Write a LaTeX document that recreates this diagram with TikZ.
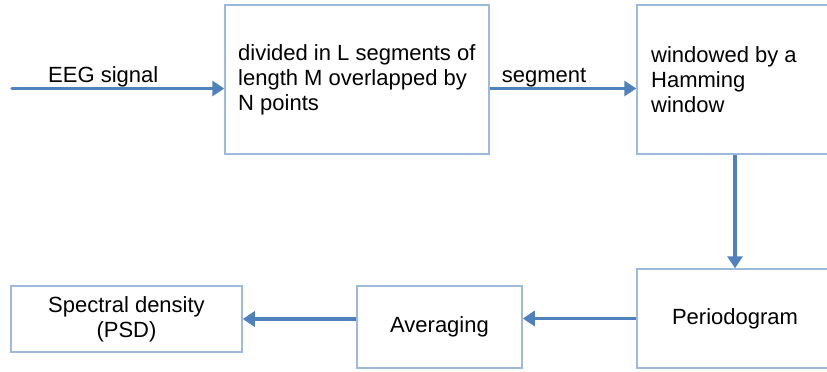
\documentclass[tikz,border=0pt]{standalone}
\usepackage{fontspec}
\setmainfont{Liberation Sans}
\usetikzlibrary{arrows.meta}
\definecolor{arrowblue}{HTML}{4F81BD}
\definecolor{boxblue}{HTML}{9DBADC}
\begin{document}
\begin{tikzpicture}[x=1pt,y=1pt,
  every node/.style={font=\fontsize{22}{25}\selectfont, text=black},
  blockbox/.style={draw=boxblue, line width=1.5pt, inner sep=0pt},
  flowarrow/.style={draw=arrowblue, line width=3.5pt, -{Triangle[length=12pt,width=15pt]}},
  lbl/.style={anchor=base, inner sep=0pt}]
\useasboundingbox (0,0) rectangle (827,-372);
\fill[white] (0,0) rectangle (827,-372);

\node[blockbox, minimum width=264, minimum height=149] (box1) at (357,-79.5) {};
\node[anchor=west, align=left, inner sep=0pt] (t1) at (238,-80) {divided in L segments of\\length M overlapped by\\N points};

\node[blockbox, minimum width=196, minimum height=149] (box2) at (735,-79.5) {};
\node[anchor=west, align=left, inner sep=0pt] (t2) at (651,-80) {windowed by a\\Hamming\\window};

\node[blockbox, minimum width=196, minimum height=99] (perio) at (735,-318.5) {Periodogram};
\node[blockbox, minimum width=165, minimum height=82] (avg) at (439.5,-327) {Averaging};
\node[blockbox, minimum width=231, minimum height=66, align=center] (spec) at (126.5,-319) {Spectral density\\(PSD)};

\coordinate (eegstart) at (12,-88.5);
\draw[flowarrow, line cap=round] (eegstart) -- (eegstart -| box1.west);
\node[lbl, anchor=base west] (eeglbl) at (48,-82) {EEG signal};

\coordinate (segy) at (0,-88.5);
\draw[flowarrow] (segy -| box1.east) -- (segy -| box2.west);
\node[lbl] (seglbl) at (544,-82) {segment};

\draw[flowarrow] (box2.south) -- (perio.north);
\draw[flowarrow] (perio.west) -- (perio.west -| avg.east);
\draw[flowarrow] (spec.east -| avg.west) -- (spec.east);
\end{tikzpicture}
\end{document}
